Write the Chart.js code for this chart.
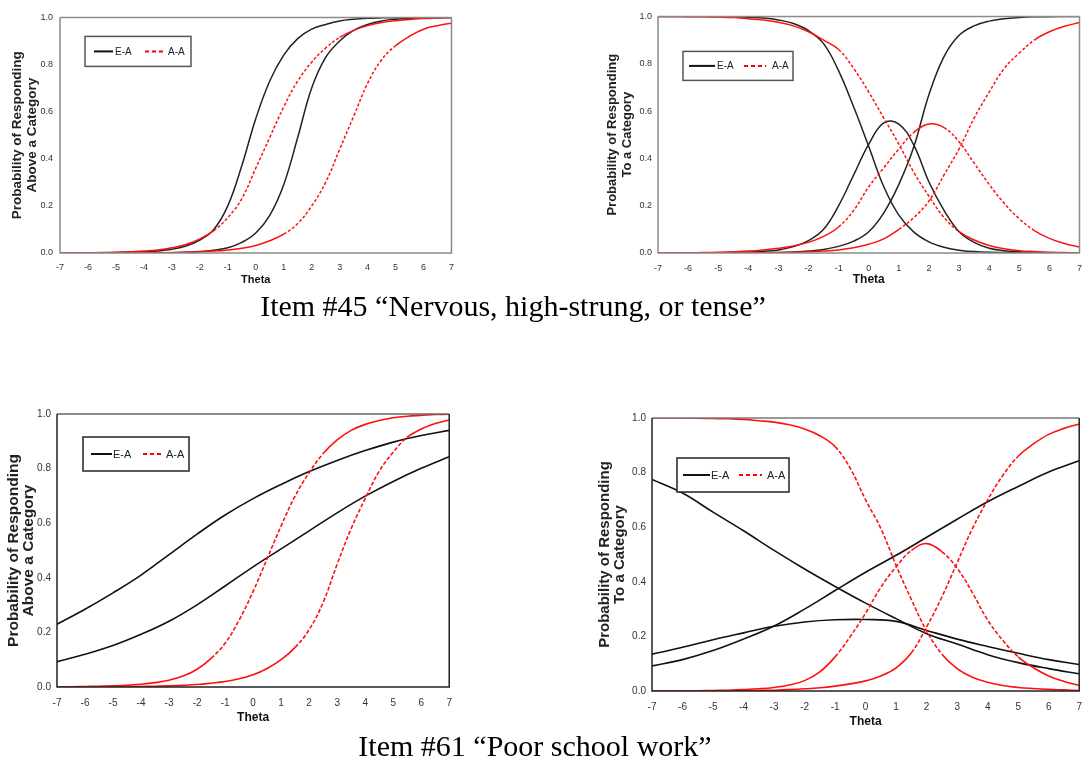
<!DOCTYPE html>
<html>
<head>
<meta charset="utf-8">
<script src="https://cdn.jsdelivr.net/npm/chart.js@4.4.0/dist/chart.umd.min.js"></script>
<style>
  html, body { margin: 0; padding: 0; background: #fff; width: 1082px; height: 763px; overflow: hidden; }
  canvas { position: absolute; }
  .caption { position: absolute; font-family: "Liberation Serif", "Times New Roman", serif; font-size: 30px; line-height: 30px; color: #000; white-space: nowrap; transform: translateX(-50%); }
</style>
</head>
<body>
<canvas id="c1" width="463" height="293" style="left:0px;top:5px"></canvas>
<canvas id="c2" width="494" height="293" style="left:598px;top:5px"></canvas>
<canvas id="c3" width="462" height="330" style="left:0px;top:402px"></canvas>
<canvas id="c4" width="498" height="330" style="left:594px;top:406px"></canvas>
<div class="caption" style="left:513px;top:291px">Item #45 “Nervous, high-strung, or tense”</div>
<div class="caption" style="left:535px;top:731px">Item #61 “Poor school work”</div>

<script>
// theta grids
const thetaFine = [-7, -6.5, -6, -5.5, -5, -4.5, -4, -3.5, -3, -2.5, -2, -1.5, -1, -0.5, 0, 0.5, 1, 1.5, 2, 2.5, 3, 3.5, 4, 4.5, 5, 5.5, 6, 6.5, 7];
const thetaCoarse = [-7, -6, -5, -4, -3, -2, -1, 0, 1, 2, 3, 4, 5, 6, 7];
const thetaTicks = [-7, -6, -5, -4, -3, -2, -1, 0, 1, 2, 3, 4, 5, 6, 7];
const probTicks = [0, 0.2, 0.4, 0.6, 0.8, 1.0];
const legendNames = ['E-A', 'A-A'];

// Item 45 - probability of responding above a category
const ea45Above1 = [0, 0, 0.001, 0.001, 0.002, 0.003, 0.005, 0.009, 0.016, 0.03, 0.055, 0.1, 0.2, 0.37, 0.57, 0.73, 0.84, 0.91, 0.95, 0.97, 0.985, 0.992, 0.996, 0.998, 0.999, 1, 1, 1, 1];
const ea45Above2 = [0, 0, 0, 0, 0, 0, 0, 0, 0.001, 0.003, 0.006, 0.012, 0.022, 0.045, 0.085, 0.16, 0.29, 0.49, 0.7, 0.83, 0.9, 0.945, 0.97, 0.985, 0.992, 0.996, 0.998, 0.999, 1];
const aa45Above1 = [0, 0, 0.001, 0.002, 0.003, 0.005, 0.008, 0.013, 0.022, 0.036, 0.06, 0.095, 0.15, 0.23, 0.36, 0.49, 0.62, 0.73, 0.81, 0.87, 0.915, 0.945, 0.965, 0.978, 0.986, 0.991, 0.995, 0.997, 0.999];
const aa45Above2 = [0, 0, 0, 0, 0, 0, 0.001, 0.001, 0.002, 0.003, 0.005, 0.008, 0.013, 0.02, 0.032, 0.052, 0.08, 0.125, 0.2, 0.3, 0.44, 0.58, 0.72, 0.82, 0.88, 0.92, 0.95, 0.965, 0.975];

// Item 45 - probability of responding to a category
const ea45Cat0 = [1, 1, 1, 1, 0.999, 0.998, 0.996, 0.993, 0.985, 0.97, 0.94, 0.885, 0.77, 0.617, 0.45, 0.28, 0.16, 0.088, 0.047, 0.024, 0.012, 0.006, 0.003, 0.002, 0.001, 0, 0, 0, 0];
const ea45Cat1 = [0, 0, 0, 0, 0, 0.002, 0.004, 0.007, 0.013, 0.027, 0.052, 0.1, 0.2, 0.33, 0.46, 0.55, 0.545, 0.455, 0.3, 0.18, 0.09, 0.045, 0.02, 0.01, 0.005, 0.002, 0.001, 0, 0];
const ea45Cat2 = [0, 0, 0, 0, 0, 0, 0, 0.001, 0.002, 0.004, 0.008, 0.015, 0.028, 0.05, 0.09, 0.17, 0.29, 0.45, 0.67, 0.83, 0.92, 0.96, 0.98, 0.99, 0.995, 0.998, 0.999, 1, 1];
const aa45Cat0 = [1, 1, 0.999, 0.998, 0.997, 0.995, 0.99, 0.985, 0.975, 0.96, 0.935, 0.9, 0.86, 0.78, 0.68, 0.57, 0.46, 0.34, 0.24, 0.15, 0.09, 0.055, 0.032, 0.018, 0.01, 0.006, 0.003, 0.002, 0.001];
const aa45Cat1 = [0, 0, 0.001, 0.002, 0.003, 0.005, 0.008, 0.013, 0.02, 0.03, 0.045, 0.07, 0.11, 0.18, 0.28, 0.36, 0.44, 0.51, 0.545, 0.53, 0.47, 0.38, 0.29, 0.21, 0.145, 0.095, 0.062, 0.04, 0.025];
const aa45Cat2 = [0, 0, 0, 0, 0, 0, 0.001, 0.001, 0.002, 0.003, 0.005, 0.008, 0.013, 0.022, 0.037, 0.06, 0.1, 0.15, 0.22, 0.33, 0.44, 0.57, 0.68, 0.78, 0.845, 0.9, 0.935, 0.958, 0.974];

// Item 61 - above a category (E-A on the coarse grid)
const ea61Above1 = [0.23, 0.285, 0.345, 0.41, 0.485, 0.56, 0.63, 0.69, 0.742, 0.789, 0.83, 0.866, 0.897, 0.921, 0.94];
const ea61Above2 = [0.093, 0.12, 0.152, 0.193, 0.241, 0.301, 0.37, 0.44, 0.506, 0.572, 0.638, 0.699, 0.753, 0.801, 0.843];
const aa61Above1 = [0.001, 0.001, 0.002, 0.003, 0.004, 0.006, 0.01, 0.016, 0.025, 0.04, 0.065, 0.105, 0.16, 0.245, 0.35, 0.47, 0.59, 0.7, 0.785, 0.855, 0.905, 0.94, 0.962, 0.976, 0.986, 0.992, 0.995, 0.998, 0.999];
const aa61Above2 = [0, 0, 0, 0.001, 0.001, 0.001, 0.002, 0.003, 0.004, 0.006, 0.009, 0.014, 0.02, 0.03, 0.045, 0.068, 0.1, 0.145, 0.21, 0.31, 0.45, 0.58, 0.69, 0.79, 0.86, 0.915, 0.945, 0.965, 0.978];

// Item 61 - to a category
const ea61Cat0 = [0.775, 0.725, 0.655, 0.587, 0.515, 0.447, 0.383, 0.322, 0.265, 0.21, 0.172, 0.133, 0.104, 0.082, 0.063];
const ea61Cat1 = [0.135, 0.16, 0.188, 0.213, 0.237, 0.253, 0.261, 0.262, 0.255, 0.222, 0.19, 0.163, 0.138, 0.115, 0.097];
const ea61Cat2 = [0.092, 0.115, 0.148, 0.19, 0.238, 0.3, 0.368, 0.435, 0.497, 0.563, 0.629, 0.693, 0.749, 0.802, 0.843];
const aa61Cat0 = [1, 1, 1, 0.999, 0.998, 0.997, 0.995, 0.99, 0.985, 0.975, 0.96, 0.935, 0.895, 0.815, 0.7, 0.595, 0.46, 0.335, 0.22, 0.135, 0.082, 0.05, 0.032, 0.02, 0.013, 0.009, 0.006, 0.004, 0.002];
const aa61Cat1 = [0, 0, 0.001, 0.001, 0.002, 0.003, 0.005, 0.008, 0.013, 0.022, 0.038, 0.07, 0.125, 0.2, 0.285, 0.38, 0.455, 0.515, 0.54, 0.51, 0.45, 0.36, 0.26, 0.185, 0.125, 0.085, 0.055, 0.035, 0.02];
const aa61Cat2 = [0, 0, 0, 0, 0, 0.001, 0.001, 0.002, 0.003, 0.005, 0.008, 0.012, 0.018, 0.026, 0.037, 0.055, 0.085, 0.14, 0.235, 0.345, 0.47, 0.595, 0.7, 0.79, 0.86, 0.905, 0.94, 0.962, 0.978];

const SANS = '"Liberation Sans", Arial, sans-serif';

// box round the plot area
const framePlugin = {
  id: 'frame',
  afterDatasetsDraw(chart, args, opts) {
    const a = chart.chartArea;
    const c = chart.ctx;
    c.save();
    c.lineWidth = opts.width;
    c.strokeStyle = opts.top;
    c.beginPath(); c.moveTo(a.left, a.top); c.lineTo(a.right, a.top); c.stroke();
    c.strokeStyle = opts.color;
    c.beginPath();
    c.moveTo(a.left, a.top); c.lineTo(a.left, a.bottom); c.lineTo(a.right, a.bottom); c.lineTo(a.right, a.top);
    c.stroke();
    c.restore();
  }
};

// the little boxed legend inside the plot
const boxLegendPlugin = {
  id: 'boxLegend',
  afterDraw(chart, args, o) {
    const a = chart.chartArea;
    const c = chart.ctx;
    const x = a.left + o.x, y = a.top + o.y;
    const mid = y + o.h / 2;
    c.save();
    c.fillStyle = '#fff';
    c.fillRect(x, y, o.w, o.h);
    c.strokeStyle = o.border;
    c.lineWidth = 1.5;
    c.strokeRect(x, y, o.w, o.h);
    c.lineWidth = 2;
    c.strokeStyle = '#111';
    c.beginPath(); c.moveTo(x + o.l1[0], mid); c.lineTo(x + o.l1[1], mid); c.stroke();
    c.strokeStyle = '#ff0000';
    c.setLineDash([4, 3]);
    c.beginPath(); c.moveTo(x + o.l2[0], mid); c.lineTo(x + o.l2[1], mid); c.stroke();
    c.setLineDash([]);
    c.fillStyle = '#222';
    c.font = o.size + 'px ' + SANS;
    c.textBaseline = 'middle';
    c.fillText(legendNames[0], x + o.t1, mid + 0.5);
    c.fillText(legendNames[1], x + o.t2, mid + 0.5);
    c.restore();
  }
};

function curve(xs, ys) {
  return xs.map((x, i) => ({ x: x, y: ys[i] }));
}

// dotted lines of the original read as solid where they run flat,
// so only the steeper pieces get the dash
function lineSet(xs, ys, color, dash, width, steep) {
  return {
    data: curve(xs, ys),
    borderColor: color,
    borderWidth: width,
    borderDash: [],
    pointRadius: 0,
    fill: false,
    tension: 0.4,
    segment: {
      borderDash: ctx => {
        if (!dash.length) return undefined;
        const dx = Math.abs(ctx.p1.x - ctx.p0.x);
        const dy = Math.abs(ctx.p1.y - ctx.p0.y);
        return dy > dx * steep ? dash : undefined;
      }
    }
  };
}

function drawPanel(id, sets, look) {
  const ctx = document.getElementById(id).getContext('2d');
  return new Chart(ctx, {
    type: 'line',
    data: { datasets: sets },
    options: {
      responsive: false,
      animation: false,
      events: [],
      layout: { padding: { top: 8, right: 10, left: 0, bottom: 0 } },
      plugins: {
        legend: { display: false },
        tooltip: { enabled: false },
        frame: look.frame,
        boxLegend: look.legend
      },
      scales: {
        x: {
          type: 'linear',
          min: -7,
          max: 7,
          grid: { display: false, drawTicks: false },
          border: { display: false },
          afterBuildTicks: s => { s.ticks = thetaTicks.map(v => ({ value: v })); },
          ticks: {
            padding: look.xPad,
            color: '#333',
            maxRotation: 0,
            autoSkip: false,
            font: { family: SANS, size: look.tickSize }
          },
          title: {
            display: true,
            text: 'Theta',
            color: '#111',
            font: { family: SANS, size: look.xTitleSize, weight: 'bold' },
            padding: { top: 0, bottom: look.xTitlePad }
          },
          afterFit: s => { s.height = 45; }
        },
        y: {
          min: 0,
          max: 1,
          grid: { display: false, drawTicks: false },
          border: { display: false },
          afterBuildTicks: s => { s.ticks = probTicks.map(v => ({ value: v })); },
          ticks: {
            padding: look.yPad,
            color: '#333',
            font: { family: SANS, size: look.tickSize },
            callback: v => Number(v).toFixed(1)
          },
          title: {
            display: true,
            text: look.yTitle,
            color: '#222',
            font: { family: SANS, size: look.yTitleSize, weight: 'bold', lineHeight: look.yTitleLh },
            padding: { top: look.yTitlePad, bottom: 0 }
          },
          afterFit: s => { s.width = look.yWidth; }
        }
      }
    },
    plugins: [framePlugin, boxLegendPlugin]
  });
}

const RED = '#ff1010';
const topDash = [3, 2];
const botDash = [4, 2];

drawPanel('c1', [
  lineSet(thetaFine, aa45Above1, RED, topDash, 1.5, 0.7),
  lineSet(thetaFine, aa45Above2, RED, topDash, 1.5, 0.7),
  lineSet(thetaFine, ea45Above1, '#222', [], 1.5),
  lineSet(thetaFine, ea45Above2, '#222', [], 1.5)
], {
  yWidth: 60, yPad: 7, xPad: 9, tickSize: 9, xTitleSize: 11, xTitlePad: 11,
  yTitle: ['Probability of Responding', 'Above a Category'], yTitleSize: 13.5, yTitleLh: 1.11, yTitlePad: 9.5,
  frame: { color: '#8a8a8a', top: '#8a8a8a', width: 1.5 },
  legend: { x: 25, y: 19, w: 106, h: 30, border: '#555', size: 10, l1: [9, 28], t1: 30, l2: [60, 81], t2: 83 }
});

drawPanel('c2', [
  lineSet(thetaFine, aa45Cat0, RED, topDash, 1.5, 0.7),
  lineSet(thetaFine, aa45Cat1, RED, topDash, 1.5, 0.7),
  lineSet(thetaFine, aa45Cat2, RED, topDash, 1.5, 0.7),
  lineSet(thetaFine, ea45Cat0, '#222', [], 1.5),
  lineSet(thetaFine, ea45Cat1, '#222', [], 1.5),
  lineSet(thetaFine, ea45Cat2, '#222', [], 1.5)
], {
  yWidth: 60, yPad: 6, xPad: 10, tickSize: 9, xTitleSize: 12, xTitlePad: 11,
  yTitle: ['Probability of Responding', 'To a Category'], yTitleSize: 13, yTitleLh: 1.15, yTitlePad: 6.5,
  frame: { color: '#8a8a8a', top: '#8a8a8a', width: 1.5 },
  legend: { x: 25, y: 35, w: 110, h: 29, border: '#555', size: 10, l1: [6, 32], t1: 34, l2: [61, 83], t2: 89 }
});

drawPanel('c3', [
  lineSet(thetaFine, aa61Above1, RED, botDash, 1.6, 1.0),
  lineSet(thetaFine, aa61Above2, RED, botDash, 1.6, 1.0),
  lineSet(thetaCoarse, ea61Above1, '#111', [], 1.6),
  lineSet(thetaCoarse, ea61Above2, '#111', [], 1.6)
], {
  yWidth: 57, yPad: 6, xPad: 10, tickSize: 10, xTitleSize: 12, xTitlePad: 7,
  yTitle: ['Probability of Responding', 'Above a Category'], yTitleSize: 15.5, yTitleLh: 0.94, yTitlePad: 6.5,
  frame: { color: '#222', top: '#666', width: 1.5 },
  legend: { x: 26, y: 23, w: 106, h: 34, border: '#222', size: 11, l1: [8, 29], t1: 30, l2: [60, 81], t2: 83 }
});

drawPanel('c4', [
  lineSet(thetaFine, aa61Cat0, RED, botDash, 1.6, 1.0),
  lineSet(thetaFine, aa61Cat1, RED, botDash, 1.6, 1.0),
  lineSet(thetaFine, aa61Cat2, RED, botDash, 1.6, 1.0),
  lineSet(thetaCoarse, ea61Cat0, '#111', [], 1.6),
  lineSet(thetaCoarse, ea61Cat1, '#111', [], 1.6),
  lineSet(thetaCoarse, ea61Cat2, '#111', [], 1.6)
], {
  yWidth: 58, yPad: 6, xPad: 10, tickSize: 10, xTitleSize: 12, xTitlePad: 7,
  yTitle: ['Probability of Responding', 'To a Category'], yTitleSize: 15, yTitleLh: 1.0, yTitlePad: 3.5,
  frame: { color: '#222', top: '#777', width: 1.5 },
  legend: { x: 25, y: 40, w: 112, h: 34, border: '#222', size: 11, l1: [6, 33], t1: 34, l2: [62, 85], t2: 90 }
});
</script>
</body>
</html>
